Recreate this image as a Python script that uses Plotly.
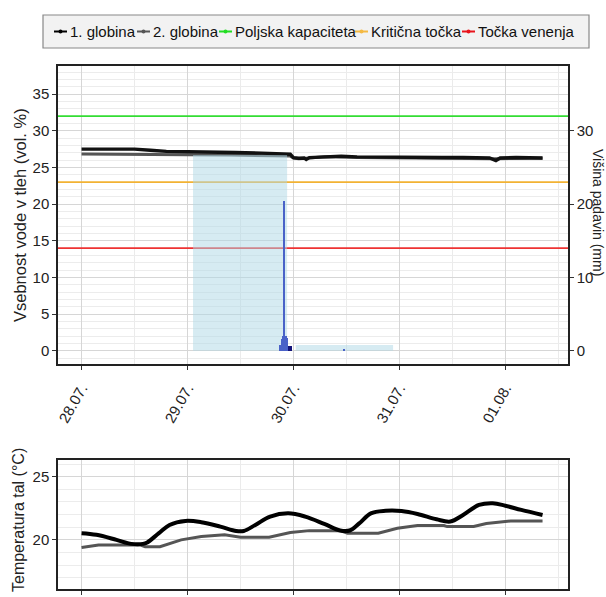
import plotly.graph_objects as go
import pandas as pd

# ---------------- data ----------------
BASE = pd.Timestamp("2022-07-28 00:00")

# soil moisture (vol. %), time as days since 28.07. 00:00
moist1_days = [0.00, 0.30, 0.50, 0.65, 0.80, 1.00, 1.20, 1.45, 1.70, 1.90, 1.97, 2.00, 2.05, 2.10, 2.12, 2.15,
               2.30, 2.45, 2.60, 2.80, 3.00, 3.20, 3.40, 3.60, 3.85, 3.91, 3.95, 4.10, 4.25, 4.35]
moist1_vals = [27.5, 27.5, 27.5, 27.35, 27.2, 27.15, 27.15, 27.05, 26.95, 26.85, 26.8, 26.35, 26.25, 26.3, 26.1, 26.35,
               26.5, 26.55, 26.45, 26.4, 26.35, 26.4, 26.35, 26.35, 26.3, 25.95, 26.3, 26.35, 26.3, 26.3]
moist2_days = [0.00, 0.50, 0.80, 1.00, 1.40, 1.80, 1.97, 2.00, 2.05, 2.15, 2.30, 2.60, 3.00, 3.50, 3.90, 4.35]
moist2_vals = [26.85, 26.85, 26.75, 26.75, 26.7, 26.6, 26.55, 26.3, 26.2, 26.3, 26.45, 26.35, 26.3, 26.3, 26.2, 26.25]

# reference levels (vol. %)
level_names = ["Poljska kapaciteta", "Kritična točka", "Točka venenja"]
level_vals = [32, 23, 14]
level_colors = ["#33dd33", "#f2b233", "#ee3333"]

# shaded periods
period_start = ["2022-07-29 01:15", "2022-07-30 00:30"]
period_end = ["2022-07-29 22:33", "2022-07-30 22:33"]
period_top = [26.7, 0.78]

# precipitation (mm), 10-min sums
rain_time = ["2022-07-29 20:55", "2022-07-29 21:05", "2022-07-29 21:15", "2022-07-29 21:25", "2022-07-29 21:35",
             "2022-07-29 21:45", "2022-07-29 21:55", "2022-07-29 22:05", "2022-07-29 22:15", "2022-07-29 22:25",
             "2022-07-29 22:35", "2022-07-30 11:30"]
rain_mm = [0.8, 0.8, 0.8, 1.6, 2.0, 2.0, 20.4, 2.0, 2.0, 2.0, 1.8, 0.3]
rain2_time = ["2022-07-29 22:55", "2022-07-29 23:05", "2022-07-29 23:20", "2022-07-29 23:30"]
rain2_mm = [0.65, 0.65, 0.6, 0.6]

# soil temperature (°C)
temp1_days = [0.00, 0.14, 0.33, 0.47, 0.58, 0.62, 0.73, 0.83, 0.98, 1.13, 1.31, 1.46, 1.53, 1.64, 1.78, 1.95,
              2.11, 2.29, 2.44, 2.53, 2.62, 2.73, 2.87, 3.02, 3.17, 3.35, 3.48, 3.60, 3.75, 3.88, 4.00, 4.15, 4.35]
temp1_vals = [20.53, 20.4, 20.0, 19.68, 19.68, 19.8, 20.53, 21.18, 21.5, 21.4, 21.05, 20.7, 20.7, 21.18, 21.84, 22.1,
              21.84, 21.26, 20.74, 20.74, 21.3, 22.1, 22.3, 22.28, 22.05, 21.63, 21.45, 21.97, 22.76, 22.9, 22.7,
              22.37, 21.97]
temp2_days = [0.00, 0.16, 0.55, 0.60, 0.74, 0.94, 1.13, 1.35, 1.50, 1.77, 1.97, 2.15, 2.44, 2.51, 2.80, 2.98,
              3.17, 3.42, 3.45, 3.70, 3.82, 4.05, 4.35]
temp2_vals = [19.4, 19.6, 19.6, 19.45, 19.45, 20.0, 20.26, 20.4, 20.2, 20.2, 20.58, 20.73, 20.73, 20.53, 20.53, 20.92,
              21.13, 21.13, 21.05, 21.05, 21.3, 21.5, 21.5]

x_range = ["2022-07-27 18:40", "2022-08-01 14:10"]
y_moist_range = [-1.81, 38.84]
y_temp_range = [16.11, 26.32]


def to_time(days):
    return [BASE + pd.Timedelta(days=d) for d in days]


# ---------------- geometry helpers (pixel -> paper) ----------------
W, H = 606, 597
ML, MR, MT, MB = 58, 38, 66, 8
PW, PH = W - ML - MR, H - MT - MB


def px(x):
    return (x - ML) / PW


def py(y):
    return (H - MB - y) / PH


FONT = "Liberation Sans, Arial, Helvetica, sans-serif"
TXT = "#222222"

fig = go.Figure()

# reference level lines
for name, v, c in zip(level_names, level_vals, level_colors):
    fig.add_trace(go.Scatter(x=x_range, y=[v, v], mode="lines", line=dict(color=c, width=1.6),
                             name=name, showlegend=False, hoverinfo="skip", xaxis="x", yaxis="y"))

# moisture lines
fig.add_trace(go.Scatter(x=to_time(moist2_days), y=moist2_vals, mode="lines",
                         line=dict(color="#555555", width=3), name="2. globina", showlegend=False,
                         xaxis="x", yaxis="y"))
fig.add_trace(go.Scatter(x=to_time(moist1_days), y=moist1_vals, mode="lines",
                         line=dict(color="#111111", width=3.4), name="1. globina", showlegend=False,
                         xaxis="x", yaxis="y"))

# shaded periods
rx, ry = [], []
for s, e, top in zip(period_start, period_end, period_top):
    rx += [s, e, e, s, s, None]
    ry += [0, 0, top, top, 0, None]
fig.add_trace(go.Scatter(x=rx, y=ry, mode="lines", fill="toself", fillcolor="rgba(173,216,230,0.5)",
                         line=dict(width=0), showlegend=False, hoverinfo="skip", xaxis="x", yaxis="y"))

# precipitation
fig.add_trace(go.Bar(x=rain_time, y=rain_mm, width=600000, marker=dict(color="#4a62c8", line=dict(width=0)),
                     showlegend=False, xaxis="x", yaxis="y2"))
fig.add_trace(go.Bar(x=rain2_time, y=rain2_mm, width=600000, marker=dict(color="#15157a", line=dict(width=0)),
                     showlegend=False, xaxis="x", yaxis="y2"))

# temperature
fig.add_trace(go.Scatter(x=to_time(temp2_days), y=temp2_vals, mode="lines",
                         line=dict(color="#555555", width=3), showlegend=False, xaxis="x2", yaxis="y3"))
fig.add_trace(go.Scatter(x=to_time(temp1_days), y=temp1_vals, mode="lines", line_shape="spline",
                         line=dict(color="#000000", width=4), showlegend=False, xaxis="x2", yaxis="y3"))

axis_common = dict(showline=True, linecolor="#222222", linewidth=1.5, mirror=True,
                   ticks="outside", ticklen=4, tickwidth=1.2, tickcolor="#333333",
                   tickfont=dict(family=FONT, size=15, color=TXT), zeroline=False)
xgrid = dict(type="date", range=x_range, tick0="2022-07-28", dtick=86400000, showgrid=True,
             gridcolor="#d6d6d6", gridwidth=1,
             minor=dict(dtick=43200000, tick0="2022-07-28", showgrid=True, gridcolor="#ebebeb", gridwidth=1,
                        ticks=""))

top_dom = [py(364), 1.0]
bot_dom = [0.0, py(460)]

fig.update_layout(
    width=W, height=H, margin=dict(l=ML, r=MR, t=MT, b=MB, autoexpand=False),
    paper_bgcolor="white", plot_bgcolor="white", showlegend=False, bargap=0,
    barmode="overlay",
    font=dict(family=FONT, size=15, color=TXT),
    xaxis=dict(**axis_common, **xgrid, domain=[0, 1], anchor="y", tickformat="%d.%m.", tickangle=-60,
               ticklabelstandoff=4),
    xaxis2=dict(**axis_common, **xgrid, domain=[0, 1], anchor="y3", matches="x", showticklabels=False),
    yaxis=dict(**axis_common, domain=top_dom, range=y_moist_range, tick0=0, dtick=5, anchor="x",
               showgrid=True, gridcolor="#d6d6d6", gridwidth=1,
               minor=dict(dtick=1, tick0=0, showgrid=True, gridcolor="#ececec", gridwidth=1, ticks="")),
    yaxis2=dict(**{k: v for k, v in axis_common.items() if k != "mirror"}, overlaying="y", side="right",
                range=y_moist_range, tick0=0, dtick=10, showgrid=False, anchor="x"),
    yaxis3=dict(**axis_common, domain=bot_dom, range=y_temp_range, tick0=0, dtick=5, anchor="x2",
                showgrid=True, gridcolor="#d6d6d6", gridwidth=1,
                minor=dict(dtick=1, tick0=0, showgrid=True, gridcolor="#ececec", gridwidth=1, ticks="")),
)

# axis titles
fig.add_annotation(text="Vsebnost vode v tleh (vol. %)", xref="paper", yref="paper", x=px(20), y=py(215),
                   textangle=-90, showarrow=False, font=dict(family=FONT, size=16.5, color=TXT),
                   xanchor="center", yanchor="middle")
fig.add_annotation(text="Višina padavin (mm)", xref="paper", yref="paper", x=px(598), y=py(212),
                   textangle=90, showarrow=False, font=dict(family=FONT, size=14, color=TXT),
                   xanchor="center", yanchor="middle")
fig.add_annotation(text="Temperatura tal (°C)", xref="paper", yref="paper", x=px(18), y=py(520),
                   textangle=-90, showarrow=False, font=dict(family=FONT, size=16, color=TXT),
                   xanchor="center", yanchor="middle")

# manual legend
legend_labels = ["1. globina", "2. globina"] + level_names
legend_colors = ["#000000", "#555555"] + ["#22dd22", "#f4b942", "#e8141c"]
legend_sym_x = [54, 137, 219, 355, 462]
LEG_Y = 31.5
fig.add_shape(type="rect", xref="paper", yref="paper", x0=px(43), x1=px(589), y0=py(48), y1=py(15),
              fillcolor="#f2f2f2", line=dict(color="#888888", width=1.2), layer="below")
for lab, col, sx in zip(legend_labels, legend_colors, legend_sym_x):
    fig.add_shape(type="line", xref="paper", yref="paper", x0=px(sx), x1=px(sx + 13), y0=py(LEG_Y), y1=py(LEG_Y),
                  line=dict(color=col, width=2))
    fig.add_shape(type="circle", xref="paper", yref="paper", x0=px(sx + 4.5), x1=px(sx + 8.5),
                  y0=py(LEG_Y + 2), y1=py(LEG_Y - 2), fillcolor=col, line=dict(color=col, width=0))
    fig.add_annotation(text=lab, xref="paper", yref="paper", x=px(sx + 14), y=py(LEG_Y), xanchor="left",
                       yanchor="middle", showarrow=False, font=dict(family=FONT, size=15, color="#111111"))

fig.write_html("out.html", config={"displayModeBar": False},
               post_script="document.body.style.margin='0';document.body.style.overflow='hidden';")
